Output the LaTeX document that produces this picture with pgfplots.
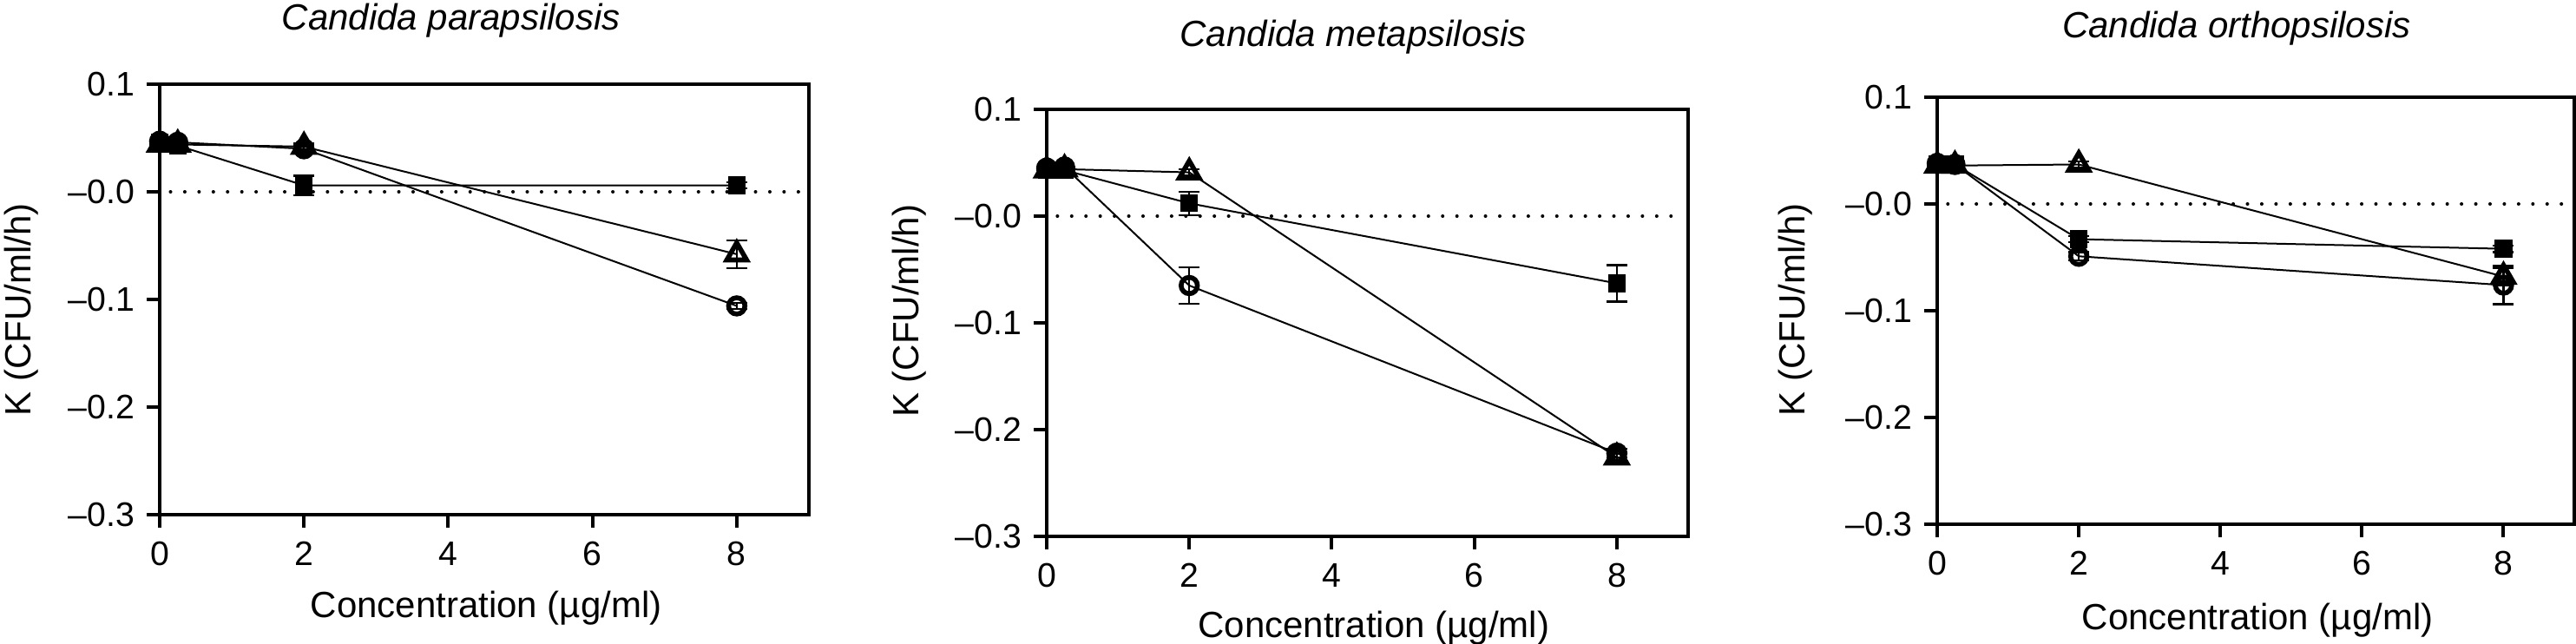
\documentclass[border=0pt]{standalone}
\usepackage{fontspec}
\setmainfont{Liberation Sans}
\usepackage{pgfplots}
\pgfplotsset{compat=1.18}
\pgfplotsset{
  myax/.style={
    scale only axis, anchor=south west,
    xmin=0, xmax=9, ymin=-0.3, ymax=0.1,
    xtick={0,2,4,6,8}, xticklabels={0,2,4,6,8},
    ytick={-0.3,-0.2,-0.1,0,0.1}, yticklabels={--0.3,--0.2,--0.1,--0.0,0.1},
    tick align=outside, tick pos=left,
    major tick length=3.75pt,
    every tick/.style={black, line width=1pt},
    axis line style={line width=1pt},
    tick label style={font=\fontsize{9.8}{12}\selectfont},
    xticklabel style={yshift=-0.5pt},
    label style={font=\fontsize{10.5}{12}\selectfont},
    title style={font=\fontsize{10.5}{12}\selectfont\itshape, anchor=center, yshift=-6pt},
    xlabel={Concentration (µg/ml)},
    ylabel={K (CFU/ml/h)},
    clip=false,
    error bars/y dir=both, error bars/y explicit,
    error bars/error bar style={line width=0.6pt, black},
    error bars/error mark options={rotate=90, mark size=3pt, line width=0.6pt, black},
  },
  zero/.style={black, line width=1pt, dash pattern=on 0.01pt off 4.1pt, line cap=round, forget plot},
  sq/.style={black, line width=0.5pt, mark=square*, mark size=2.3pt, mark options={fill=black, solid, line width=0.5pt}},
  tri/.style={black, line width=0.5pt, mark=triangle, mark size=3.3pt, mark options={fill=white, solid, line width=1.4pt}},
  cir/.style={black, line width=0.5pt, mark=o, mark size=2.35pt, mark options={fill=white, solid, line width=1.4pt}},
}
\begin{document}
\begin{tikzpicture}
\path[use as bounding box] (0,0) rectangle (742pt,185.25pt);
% Panel 1
\begin{axis}[myax, at={(46pt,37pt)}, width=187pt, height=124pt,
  title={Candida parapsilosis}, title style={at={(axis description cs:0.449,1.147)}},
  xlabel style={at={(axis description cs:0.503,-0.216)}, anchor=center},
  ylabel style={at={(axis description cs:-0.2126,0.476)}, anchor=center}]
\addplot[zero] coordinates {(0.15,0) (8.95,0)};
\addplot[sq] coordinates {(0,0.046) +- (0,0) (0.25,0.043) +- (0,0) (2,0.006) +- (0,0.009) (8,0.006) +- (0,0.003)};
\addplot[tri] coordinates {(0,0.044) +- (0,0) (0.25,0.044) +- (0,0) (2,0.042) +- (0,0.003) (8,-0.058) +- (0,0.013)};
\addplot[cir] coordinates {(0,0.047) +- (0,0) (0.25,0.046) +- (0,0) (2,0.040) +- (0,0.003) (8,-0.106) +- (0,0.003)};
\end{axis}
% Panel 2
\begin{axis}[myax, at={(301.5pt,30.75pt)}, width=184.75pt, height=123pt,
  title={Candida metapsilosis}, title style={at={(axis description cs:0.478,1.169)}},
  xlabel style={at={(axis description cs:0.510,-0.215)}, anchor=center},
  ylabel style={at={(axis description cs:-0.214,0.528)}, anchor=center}]
\addplot[zero] coordinates {(0.15,0) (8.95,0)};
\addplot[sq] coordinates {(0,0.043) +- (0,0) (0.25,0.043) +- (0,0) (2,0.012) +- (0,0.011) (8,-0.063) +- (0,0.017)};
\addplot[tri] coordinates {(0,0.043) +- (0,0) (0.25,0.044) +- (0,0) (2,0.041) +- (0,0.003) (8,-0.226) +- (0,0.003)};
\addplot[cir] coordinates {(0,0.045) +- (0,0) (0.25,0.046) +- (0,0) (2,-0.065) +- (0,0.017) (8,-0.222) +- (0,0.004)};
\end{axis}
% Panel 3
\begin{axis}[myax, at={(558pt,34.25pt)}, width=183.5pt, height=123pt,
  title={Candida orthopsilosis}, title style={at={(axis description cs:0.47,1.161)}},
  xlabel style={at={(axis description cs:0.503,-0.224)}, anchor=center},
  ylabel style={at={(axis description cs:-0.223,0.502)}, anchor=center}]
\addplot[zero] coordinates {(0.15,0) (8.95,0)};
\addplot[sq] coordinates {(0,0.037) +- (0,0) (0.25,0.037) +- (0,0) (2,-0.033) +- (0,0.003) (8,-0.042) +- (0,0.003)};
\addplot[tri] coordinates {(0,0.036) +- (0,0) (0.25,0.036) +- (0,0) (2,0.037) +- (0,0.003) (8,-0.068) +- (0,0.008)};
\addplot[cir] coordinates {(0,0.038) +- (0,0) (0.25,0.037) +- (0,0) (2,-0.049) +- (0,0.004) (8,-0.076) +- (0,0.018)};
\end{axis}
\end{tikzpicture}
\end{document}
